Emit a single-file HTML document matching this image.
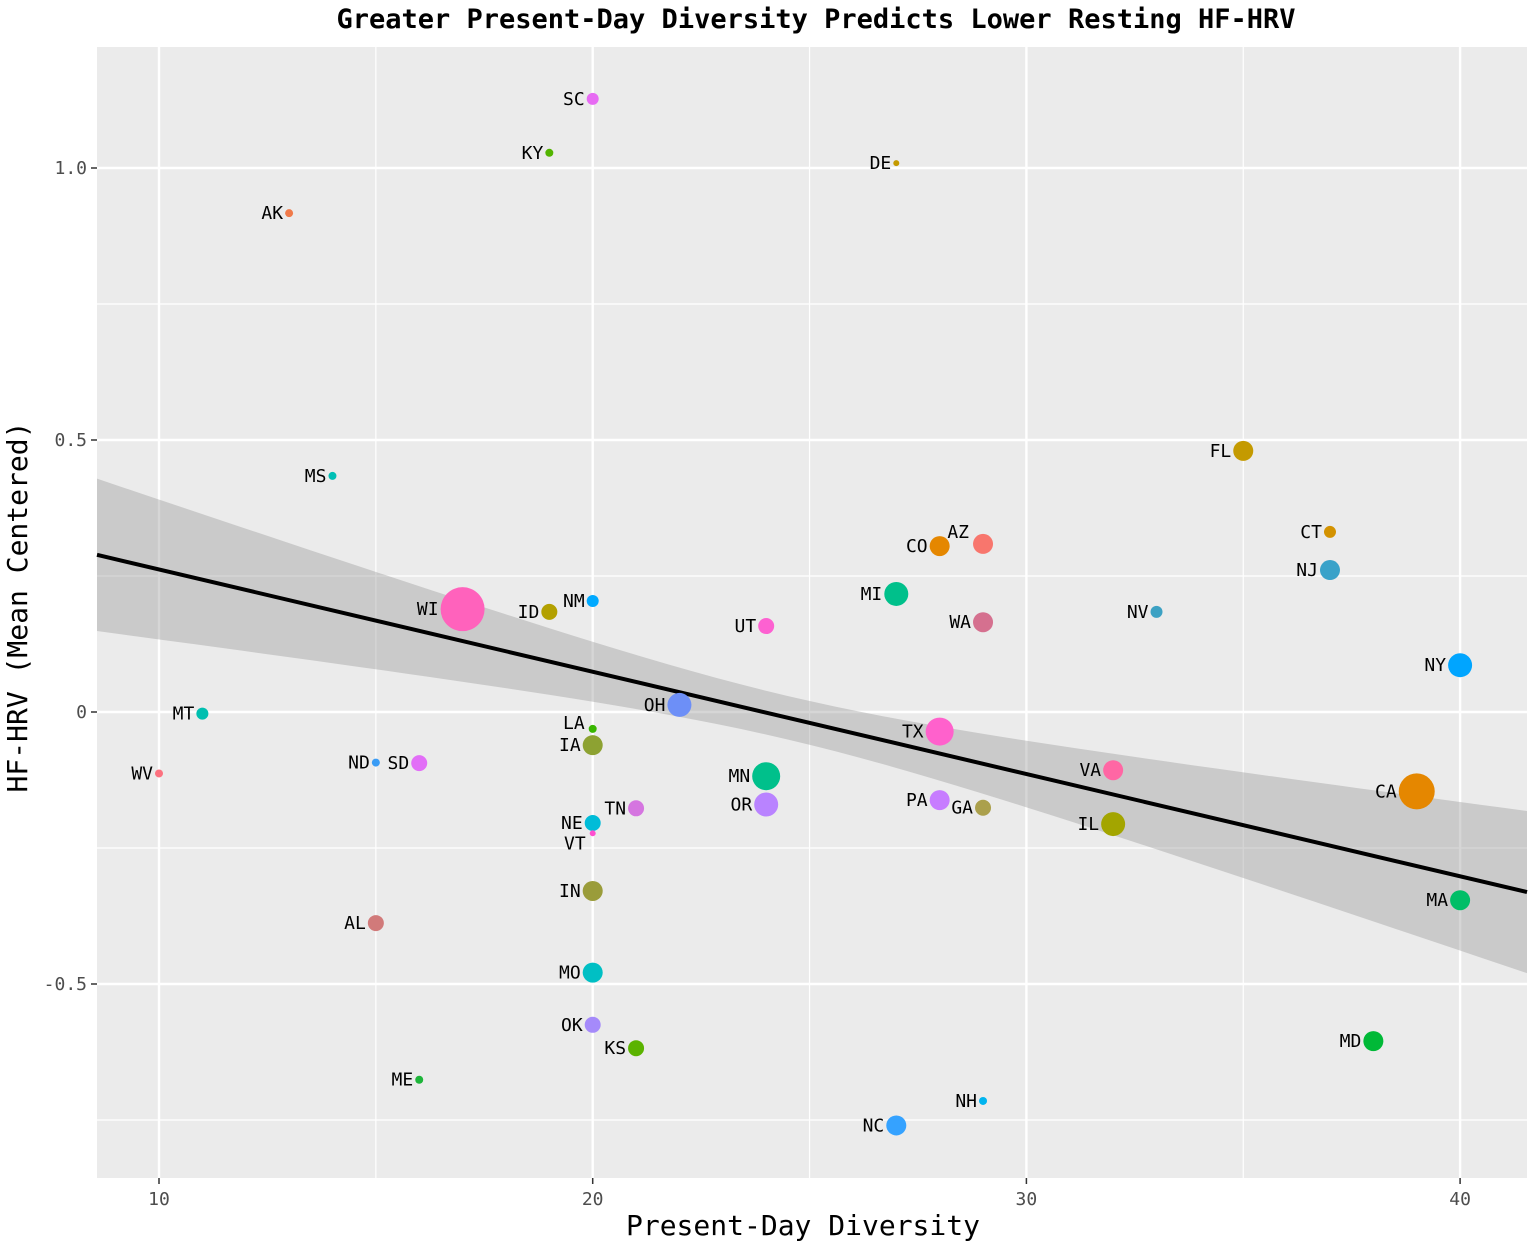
<!DOCTYPE html>
<html><head><meta charset="utf-8"><style>
body{margin:0;background:#fff;}
svg text{font-family:"DejaVu Sans Mono","Liberation Mono",monospace;}
</style></head><body>
<svg id="chart" width="1535" height="1245" xmlns="http://www.w3.org/2000/svg">
<rect x="0" y="0" width="1535" height="1245" fill="#fff"/>
<text x="816" y="28" text-anchor="middle" font-size="27" font-weight="bold" fill="#000">Greater Present-Day Diversity Predicts Lower Resting HF-HRV</text>
<rect x="97" y="47" width="1430" height="1131" fill="#ebebeb"/>
<g id="grid"></g>
<g id="band"></g>
<g id="points"></g>
<g id="axes"></g>
<text x="803" y="1235" text-anchor="middle" font-size="28" fill="#000">Present-Day Diversity</text>
<text transform="translate(27,607) rotate(-90)" text-anchor="middle" font-size="28" fill="#000">HF-HRV (Mean Centered)</text>
</svg>
<script>
const states=["SC","KY","DE","AK","MS","FL","CT","AZ","CO","NJ","MI","WI","NM","ID","NV","WA","UT","NY","OH","MT","LA","TX","IA","WV","ND","SD","VA","MN","CA","PA","OR","TN","GA","NE","IL","VT","IN","MA","AL","MO","MD","OK","KS","ME","NH","NC"];
const diversity=[20,19,27,13,14,35,37,29,28,37,27,17,20,19,33,29,24,40,22,11,20,28,20,10,15,16,32,24,39,28,24,21,29,20,32,20,20,40,15,20,38,20,21,16,29,27];
const hrv=[1.127,1.028,1.009,0.917,0.434,0.48,0.331,0.309,0.305,0.261,0.217,0.189,0.204,0.184,0.184,0.165,0.158,0.086,0.013,-0.003,-0.031,-0.036,-0.061,-0.113,-0.093,-0.094,-0.107,-0.118,-0.146,-0.162,-0.17,-0.177,-0.176,-0.204,-0.206,-0.223,-0.329,-0.346,-0.388,-0.479,-0.605,-0.575,-0.618,-0.676,-0.715,-0.76];
const sizes=[6,4,3,4,4,10,6,10,10,10,12,22,6,8,6,10,8,12,12,6,4,14,10,4,4,8,10,14,18,10,12,8,8,8,12,3,10,10,8,10,10,8,8,4,4,10];
const colors=["#e76bf3","#53b400","#c49a00","#f07a4a","#00bfb5","#c49a00","#d39200","#f8766d","#e58700","#39a2c9","#00c08b","#ff62bc","#00a9ff","#b3a000","#3ca1c3","#d5708f","#fd61d1","#00a5ff","#6d8ff7","#00bfb0","#39b600","#ff61cc","#8da232","#fc717f","#3a9cf5","#e26ef7","#ff67a4","#00c08b","#e58700","#c77cff","#b983ff","#d575e0","#aba04c","#00bcd8","#a3a500","#ff4fd0","#9a9c3a","#00be67","#d17a7a","#00bfc4","#00b937","#a58afa","#5bb300","#1eb53a","#00b4ef","#35a2ff"];
const xTicks=[10,20,30,40];
const xMinor=[15,25,35];
const yTicks=[-0.5,0,0.5,1.0];
const yTickLabels=["-0.5","0","0.5","1.0"];
const yMinor=[-0.75,-0.25,0.25,0.75];
const fitIntercept=0.450, fitSlope=-0.0188, fitMean=24.5, seA=0.0016, seB=0.000071;
const labelSpecial={AZ:[-2,-12],LA:[-2,-6],VT:[-2,10]};

const X=v=>159+(v-10)*43.37;
const Y=v=>712-v*544;
const NS="http://www.w3.org/2000/svg";
function mk(tag,attrs,parent){const e=document.createElementNS(NS,tag);for(const k in attrs)e.setAttribute(k,attrs[k]);parent.appendChild(e);return e;}
const grid=document.getElementById('grid'),axes=document.getElementById('axes');
xMinor.forEach(v=>{const l=mk('line',{x1:X(v),x2:X(v),y1:47,y2:1178,stroke:'#fff','stroke-width':1.2},grid);

});
yMinor.forEach(v=>{const l=mk('line',{x1:97,x2:1527,y1:Y(v),y2:Y(v),stroke:'#fff','stroke-width':1.2},grid);

});
xTicks.forEach(v=>{const l=mk('line',{x1:X(v),x2:X(v),y1:47,y2:1178,stroke:'#fff','stroke-width':2.4},grid);


const t=mk('line',{x1:X(v),x2:X(v),y1:1178,y2:1184,stroke:'#333','stroke-width':1.5},axes);


const tx=mk('text',{x:X(v),y:1205,'text-anchor':'middle','font-size':18,fill:'#4d4d4d'},axes);tx.textContent=v;

});
yTicks.forEach((v,i)=>{const l=mk('line',{x1:97,x2:1527,y1:Y(v),y2:Y(v),stroke:'#fff','stroke-width':2.4},grid);


const t=mk('line',{x1:91,x2:97,y1:Y(v),y2:Y(v),stroke:'#333','stroke-width':1.5},axes);


const tx=mk('text',{x:87,y:Y(v)+6,'text-anchor':'end','font-size':18,fill:'#4d4d4d'},axes);tx.textContent=yTickLabels[i];

});
const band=document.getElementById('band');
const x0=(97-159)/43.37+10, x1=(1527-159)/43.37+10;
let up=[],lo=[];
for(let i=0;i<=60;i++){const x=x0+(x1-x0)*i/60;const f=fitIntercept+fitSlope*x;const h=Math.sqrt(seA+seB*(x-fitMean)**2);up.push(X(x)+','+Y(f+h));lo.unshift(X(x)+','+Y(f-h));}
const poly=mk('polygon',{points:up.concat(lo).join(' '),fill:'#999','fill-opacity':0.4},band);


const fl=mk('line',{x1:X(x0),y1:Y(fitIntercept+fitSlope*x0),x2:X(x1),y2:Y(fitIntercept+fitSlope*x1),stroke:'#000','stroke-width':4},band);


const pts=document.getElementById('points');
states.forEach((s,i)=>{const cx=X(diversity[i]),cy=Y(hrv[i]),r=sizes[i];
const c=mk('circle',{cx:cx,cy:cy,r:r,fill:colors[i]},pts);


const off=labelSpecial[s]||[0,0];
const t=mk('text',{x:cx-r-2+off[0],y:cy+6+off[1],'text-anchor':'end','font-size':18,fill:'#000'},pts);t.textContent=s;

});
</script>
</body></html>
